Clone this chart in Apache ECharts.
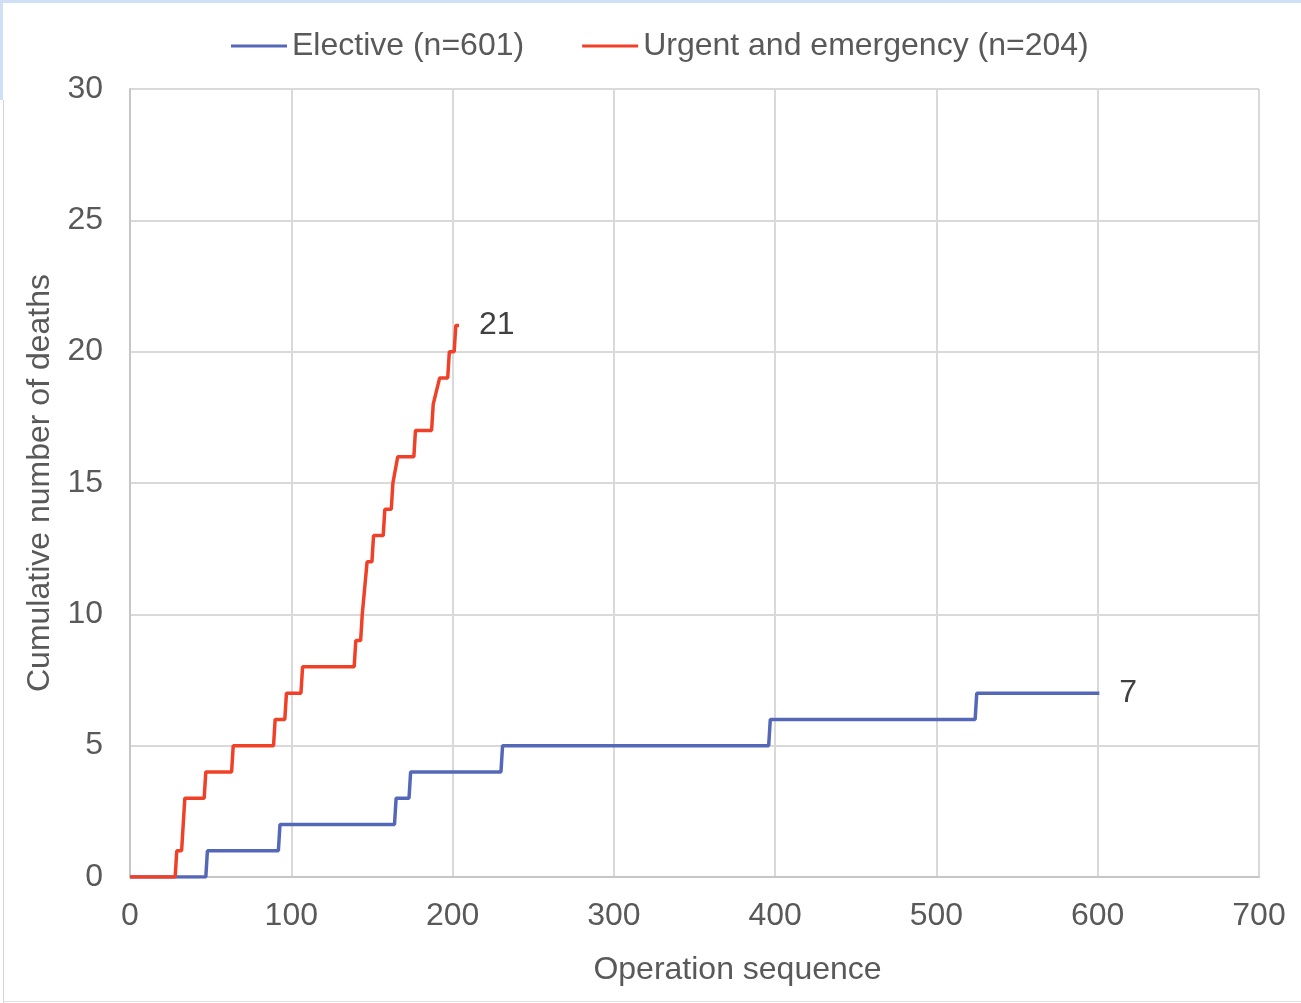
<!DOCTYPE html>
<html>
<head>
<meta charset="utf-8">
<script src="https://cdn.jsdelivr.net/npm/echarts@6/dist/echarts.min.js"></script>
<style>
html,body{margin:0;padding:0;background:#fff;}
#chart{position:absolute;left:0;top:0;width:1301px;height:1003px;}
.deco{position:absolute;pointer-events:none;}
</style>
</head>
<body>
<div id="chart"></div>
<div class="deco" style="left:0;top:0;width:1301px;height:3px;background:#cfe0f6;"></div>
<div class="deco" style="left:0;top:0;width:3px;height:100px;background:#cfe0f6;"></div>
<div class="deco" style="left:3px;top:100px;width:1px;height:903px;background:#d4d4d4;"></div>
<div class="deco" style="left:3px;top:1001px;width:1298px;height:1px;background:#e0e0e0;"></div>
<script>
// Elective: [operation sequence, cumulative deaths]
const electiveX = [0, 47, 48, 92, 93, 164, 165, 173, 174, 230, 231, 396, 397, 524, 525, 601];
const electiveY = [0, 0, 1, 1, 2, 2, 3, 3, 4, 4, 5, 5, 6, 6, 7, 7];
// Urgent and emergency
const urgentX = [0, 28, 29, 32, 34, 46, 47, 63, 64, 89, 90, 96, 97, 106, 107, 139, 140, 143, 144, 145, 147, 150, 151, 157, 158, 162, 163, 164, 166, 176, 177, 187, 188, 189, 192, 197, 198, 201, 202, 204];
const urgentY = [0, 0, 1, 1, 3, 3, 4, 4, 5, 5, 6, 6, 7, 7, 8, 8, 9, 9, 10, 10, 12, 12, 13, 13, 14, 14, 15, 15, 16, 16, 17, 17, 18, 18, 19, 19, 20, 20, 21, 21];
const seriesNames = ['Elective (n=601)', 'Urgent and emergency (n=204)'];
const xTicks = [0, 100, 200, 300, 400, 500, 600, 700];
const yTicks = [0, 5, 10, 15, 20, 25, 30];

const zip = (xs, ys) => xs.map((x, i) => [x, ys[i]]);
const font = '"Liberation Sans", Arial, sans-serif';
const FS = 32;

const chart = echarts.init(document.getElementById('chart'), null, {renderer: 'canvas'});
chart.setOption({
  animation: false,
  backgroundColor: '#ffffff',
  legend: {
    top: 25,
    left: 226,
    icon: 'rect',
    itemWidth: 56,
    itemHeight: 3,
    itemGap: 58,
    textStyle: {fontFamily: font, fontSize: FS, color: '#595959'},
    data: seriesNames
  },
  grid: {left: 130, right: 42, top: 89, bottom: 126, containLabel: false},
  xAxis: {
    type: 'value',
    min: xTicks[0],
    max: xTicks[xTicks.length - 1],
    interval: 100,
    name: 'Operation sequence',
    nameLocation: 'middle',
    nameGap: 77,
    nameTextStyle: {fontFamily: font, fontSize: FS, color: '#595959', padding: [0, 0, 0, 86]},
    axisLine: {show: true, lineStyle: {color: '#c6c6c6', width: 2}},
    axisTick: {show: false},
    axisLabel: {fontFamily: font, fontSize: FS, color: '#595959', margin: 23},
    splitLine: {show: true, lineStyle: {color: '#d9d9d9', width: 2}}
  },
  yAxis: {
    type: 'value',
    min: yTicks[0],
    max: yTicks[yTicks.length - 1],
    interval: 5,
    name: 'Cumulative number of deaths',
    nameLocation: 'middle',
    nameGap: 73,
    nameTextStyle: {fontFamily: font, fontSize: FS, color: '#595959'},
    axisLine: {show: true, lineStyle: {color: '#c6c6c6', width: 2}},
    axisTick: {show: false},
    axisLabel: {fontFamily: font, fontSize: FS, color: '#595959', margin: 27},
    splitLine: {show: true, lineStyle: {color: '#d9d9d9', width: 2}}
  },
  series: [
    {
      name: seriesNames[0],
      type: 'line',
      data: zip(electiveX, electiveY),
      symbol: 'none',
      color: '#5568b8',
      lineStyle: {width: 3.5, color: '#5568b8'},
      endLabel: {show: true, formatter: p => p.value[1], fontFamily: font, fontSize: FS, color: '#404040', distance: 20},
      z: 2
    },
    {
      name: seriesNames[1],
      type: 'line',
      data: zip(urgentX, urgentY),
      symbol: 'none',
      color: '#f04128',
      lineStyle: {width: 3.5, color: '#f04128'},
      endLabel: {show: true, formatter: p => p.value[1], fontFamily: font, fontSize: FS, color: '#404040', distance: 20},
      z: 3
    }
  ]
});
</script>
</body>
</html>
